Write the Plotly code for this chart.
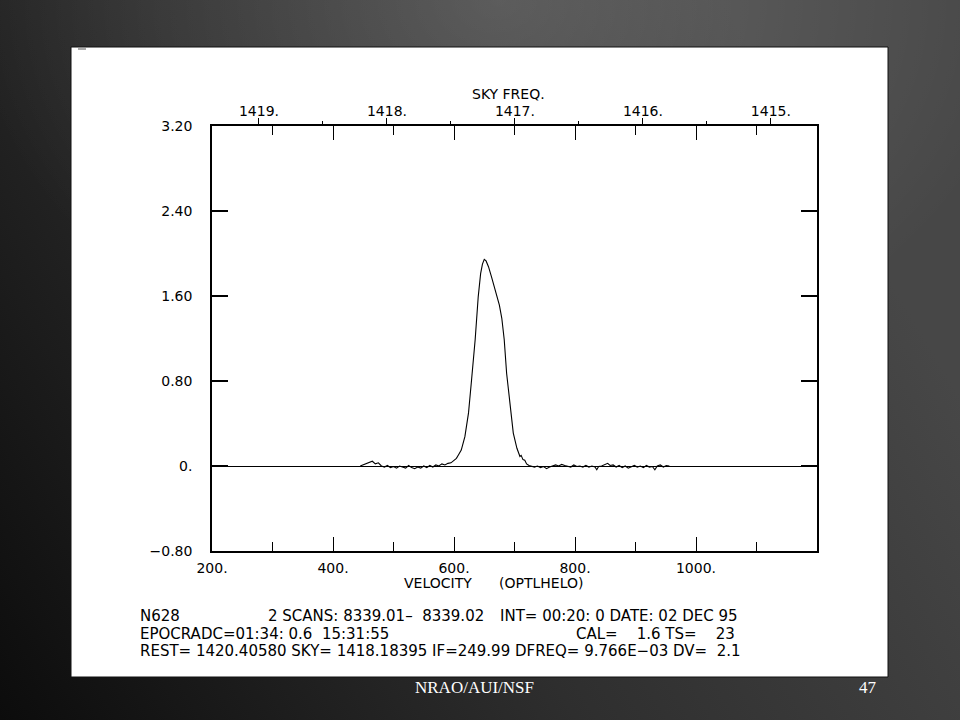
import base64
import plotly.graph_objects as go

# ---------------- data ----------------
velocity = [445, 450, 455, 460, 465, 470, 475, 480, 485, 490, 495, 500, 505, 510, 515,
            520, 525, 530, 535, 540, 545, 550, 555, 560, 565, 570, 575, 580, 585, 590,
            595, 600, 604, 608, 612, 618, 624, 629, 635, 640, 644, 647, 650, 653, 657,
            662, 665, 671, 675, 679, 683, 687, 693, 698, 704, 709, 711, 714, 717, 720,
            724, 728, 733, 738, 743, 748, 753, 758, 763, 768, 773, 778, 783, 788, 793,
            798, 803, 808, 813, 818, 823, 828, 833, 836, 839, 844, 849, 854, 858, 863,
            868, 873, 878, 883, 888, 893, 898, 903, 908, 913, 918, 923, 928, 932, 936,
            941, 946, 951, 956]
intensity = [0.00, 0.01, 0.02, 0.03, 0.045, 0.02, 0.03, 0.00, -0.01, 0.005, -0.015, -0.005, -0.02, 0.0, -0.01,
             -0.02, 0.005, -0.015, -0.025, -0.01, -0.02, 0.0, -0.015, 0.005, -0.01, 0.01, 0.0, 0.02, 0.01, 0.025,
             0.03, 0.05, 0.072, 0.11, 0.15, 0.276, 0.50, 0.81, 1.19, 1.59, 1.81, 1.90, 1.945, 1.93, 1.876,
             1.78, 1.72, 1.58, 1.515, 1.39, 1.19, 0.87, 0.56, 0.31, 0.167, 0.09, 0.10, 0.06, 0.055, 0.02,
             0.005, 0.0, -0.01, 0.0, -0.015, -0.005, -0.025, -0.01, 0.0, 0.01, 0.0, 0.015, 0.005, 0.0, -0.01,
             0.01, -0.005, 0.0, -0.01, 0.005, -0.01, 0.0, -0.01, -0.035, -0.005, 0.0, 0.01, 0.025, 0.005, 0.01,
             -0.01, 0.005, -0.015, 0.0, -0.02, -0.005, 0.005, -0.01, 0.0, -0.015, 0.005, -0.01, -0.005, -0.035, 0.0,
             0.01, -0.01, 0.005, 0.0]

vel_major = [200, 400, 600, 800, 1000]
vel_major_text = ["200.", "400.", "600.", "800.", "1000."]
vel_minor = [300, 500, 700, 900, 1100]
vel_range = [200, 1200]

y_ticks = [-0.8, 0.0, 0.8, 1.6, 2.4, 3.2]
y_tick_text = ["\u22120.80", "0.", "0.80", "1.60", "2.40", "3.20"]
y_range = [-0.8, 3.2]

freq_major = [1419, 1418, 1417, 1416, 1415]
freq_major_text = ["1419.", "1418.", "1417.", "1416.", "1415."]
freq_minor = [1418.5, 1417.5, 1416.5, 1415.5]
freq_range = [1419.367, 1414.64]

NB = "\u00a0"
# (text, x pixel, anchor)
info_lines = [
    [("N628", 138, "left"),
     ("2 SCANS: 8339.01\u2013  8339.02", 376, "center"),
     ("INT= 00:20: 0 DATE: 02 DEC 95", 619, "center")],
    [("EPOCRADC=01:34: 0.6  15:31:55", 138, "left"),
     ("CAL=    1.6 TS=    23", 574, "left")],
    [("REST= 1420.40580 SKY= 1418.18395 IF=249.99 DFREQ= 9.766E\u221203 DV=  2.1", 138, "left")],
]
info_y = [616, 634, 651]

# ---------------- layout geometry (pixels) ----------------
W, H = 960, 720
L, R, T, B = 212, 817, 126, 551
PW, PH = R - L, B - T


def px(x):
    return (x - L) / PW


def py(y):
    return (B - y) / PH


FONT = "DejaVu Sans"

svg = ("<svg xmlns='http://www.w3.org/2000/svg' width='960' height='720' preserveAspectRatio='none'>"
       "<defs>"
       "<linearGradient id='a' x1='0' y1='1' x2='1' y2='0.55'>"
       "<stop offset='0' stop-color='#0c0c0c'/><stop offset='0.5' stop-color='#2e2e2e'/>"
       "<stop offset='1' stop-color='#474747'/></linearGradient>"
       "<radialGradient id='g' cx='0.52' cy='0.0' r='0.55'>"
       "<stop offset='0' stop-color='#ffffff' stop-opacity='0.16'/>"
       "<stop offset='1' stop-color='#ffffff' stop-opacity='0'/></radialGradient>"
       "</defs>"
       "<rect width='960' height='720' fill='url(#a)'/>"
       "<rect width='960' height='720' fill='url(#g)'/></svg>")
bg_src = "data:image/svg+xml;base64," + base64.b64encode(svg.encode()).decode()

fig = go.Figure()
fig.add_trace(go.Scatter(x=velocity, y=intensity, mode="lines",
                         line=dict(color="black", width=1.1),
                         showlegend=False, hoverinfo="skip"))
fig.add_trace(go.Scatter(x=freq_major, y=[None] * len(freq_major), xaxis="x2",
                         mode="lines", showlegend=False, hoverinfo="skip"))

fig.update_layout(
    width=W, height=H,
    margin=dict(l=L, r=W - R, t=T, b=H - B, pad=0),
    paper_bgcolor="#2e2e2e",
    plot_bgcolor="rgba(0,0,0,0)",
    font=dict(family=FONT, size=14, color="black"),
    xaxis=dict(range=vel_range, tickmode="array", tickvals=vel_major, ticktext=vel_major_text,
               ticks="inside", ticklen=14, tickwidth=1.3, tickcolor="black",
               minor=dict(tickmode="array", tickvals=vel_minor, ticks="inside", ticklen=9,
                          tickwidth=1.3, tickcolor="black", showgrid=False),
               showline=True, linecolor="black", linewidth=1.5, mirror="ticks",
               showgrid=False, zeroline=False, ticklabelstandoff=3,
               tickfont=dict(family=FONT, size=14, color="black")),
    xaxis2=dict(overlaying="x", side="top", anchor="y", range=freq_range,
                tickmode="array", tickvals=freq_major, ticktext=freq_major_text,
                ticks="outside", ticklen=7, tickwidth=1.3, tickcolor="black",
                minor=dict(tickmode="array", tickvals=freq_minor, ticks="outside", ticklen=4,
                           tickwidth=1, tickcolor="black", showgrid=False),
                showline=False, showgrid=False, zeroline=False, ticklabelstandoff=-4,
                tickfont=dict(family=FONT, size=14, color="black")),
    yaxis=dict(range=y_range, tickmode="array", tickvals=y_ticks, ticktext=y_tick_text,
               ticks="inside", ticklen=16, tickwidth=1.5, tickcolor="black",
               showline=True, linecolor="black", linewidth=1.5, mirror="ticks",
               showgrid=False, zeroline=True, zerolinecolor="black", zerolinewidth=1.2,
               ticklabelstandoff=15,
               tickfont=dict(family=FONT, size=14, color="black")),
    images=[dict(source=bg_src, xref="paper", yref="paper", x=px(0), y=py(0),
                 sizex=W / PW, sizey=H / PH, xanchor="left", yanchor="top",
                 sizing="stretch", layer="below")],
    shapes=[dict(type="rect", xref="paper", yref="paper", x0=px(71), x1=px(888),
                 y0=py(677), y1=py(47), fillcolor="white",
                 line=dict(color="#111111", width=1), layer="below"),
            dict(type="line", xref="paper", yref="paper", x0=px(78), x1=px(86),
                 y0=py(49), y1=py(49), line=dict(color="#555555", width=1), layer="below")],
)

ann = []
ann.append(dict(text="SKY FREQ.", x=px(508), y=py(94)))
ann.append(dict(text="VELOCITY", x=px(438), y=py(583)))
ann.append(dict(text="(OPTLHELO)", x=px(541), y=py(583)))
for d in ann:
    d.update(xref="paper", yref="paper", showarrow=False, xanchor="center", yanchor="middle",
             font=dict(family=FONT, size=14, color="black"))
for line, yy in zip(info_lines, info_y):
    for txt, xx, anc in line:
        ann.append(dict(text=txt.replace(" ", NB), x=px(xx), y=py(yy), xref="paper", yref="paper",
                        showarrow=False, xanchor=anc, yanchor="middle",
                        font=dict(family=FONT, size=15, color="black")))
ann.append(dict(text="NRAO/AUI/NSF", x=px(413), y=py(687), xref="paper", yref="paper",
                showarrow=False, xanchor="left", yanchor="middle",
                font=dict(family="Liberation Serif", size=17, color="white")))
ann.append(dict(text="47", x=px(879), y=py(687), xref="paper", yref="paper",
                showarrow=False, xanchor="right", yanchor="middle",
                font=dict(family="Liberation Serif", size=17, color="white")))
fig.update_layout(annotations=ann)

fig.write_html("out.html", config={"displayModeBar": False},
               post_script="document.body.style.margin='0';document.body.style.overflow='hidden';")
